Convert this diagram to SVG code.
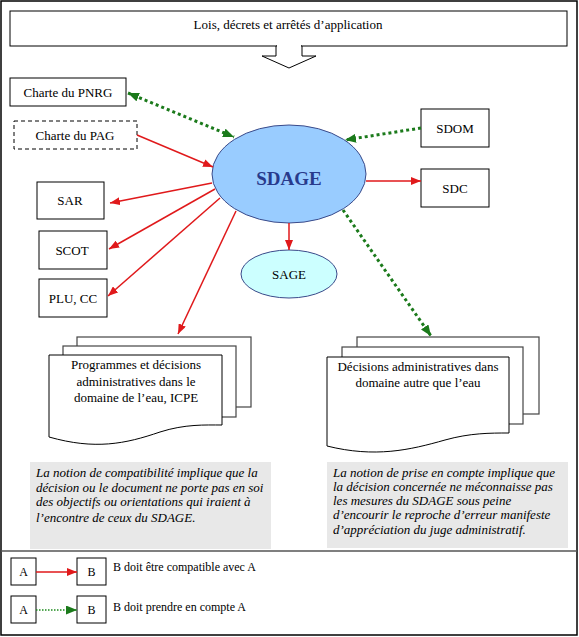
<svg xmlns="http://www.w3.org/2000/svg" width="579" height="637" viewBox="0 0 579 637">
<style>
  text { font-family: "Liberation Serif", "Times New Roman", serif; fill: #000; }
  .lbl { font-size: 13px; text-anchor: middle; }
  .box { fill: #fff; stroke: #000; stroke-width: 1; }
  .page { fill: #fff; stroke: #000; stroke-width: 1; }
  .back { fill: #fff; stroke: #444; stroke-width: 1.2; }
  .red { stroke: #E0191B; stroke-width: 1.5; fill: none; marker-end: url(#ah-red); }
  .green { stroke: #1B7A1B; stroke-width: 3; stroke-dasharray: 3 3; fill: none; marker-end: url(#ah-green); }
  .note { fill: #E8E8E8; stroke: none; }
  .nt { font-size: 13px; font-style: italic; }
  .leg { font-size: 12px; }
  .legc { font-size: 12px; text-anchor: middle; }
</style>
<defs>
  <marker id="ah-red" markerUnits="userSpaceOnUse" markerWidth="10" markerHeight="8" refX="10" refY="4" orient="auto">
    <path d="M0,0 L10,4 L0,8 z" fill="#E0191B"/>
  </marker>
  <marker id="ah-green" markerUnits="userSpaceOnUse" markerWidth="11" markerHeight="9" refX="11" refY="4.5" orient="auto-start-reverse">
    <path d="M0,0 L11,4.5 L0,9 z" fill="#1B7A1B"/>
  </marker>
</defs>
<rect x="0" y="0" width="579" height="637" fill="#fff"/>
<rect x="1" y="1" width="576" height="634" fill="none" stroke="#000" stroke-width="1.5"/>
<line x1="1" y1="551" x2="577" y2="551" stroke="#555" stroke-width="1.5"/>

<g id="lois">
  <rect class="box" x="10" y="11" width="557" height="35" stroke="#333"/>
  <text class="lbl" x="288" y="29">Lois, décrets et arrêtés d’application</text>
  <polygon points="276,46 276,56 262,56 289,68 316,56 302,56 302,46" fill="#fff" stroke="#000" stroke-width="1"/>
  <rect x="277" y="45" width="24" height="2" fill="#fff"/>
</g>

<g id="charte-pnrg">
  <rect class="box" x="10" y="78" width="116" height="28"/>
  <text class="lbl" x="68" y="97">Charte du PNRG</text>
</g>
<g id="charte-pag">
  <rect class="box" x="14" y="121" width="123" height="28" stroke-dasharray="4 3"/>
  <text class="lbl" x="75" y="140">Charte du PAG</text>
</g>
<g id="sdom">
  <rect class="box" x="421" y="109" width="68" height="38"/>
  <text class="lbl" x="455" y="133">SDOM</text>
</g>
<g id="sdc">
  <rect class="box" x="421" y="169" width="68" height="38"/>
  <text class="lbl" x="455" y="193">SDC</text>
</g>
<g id="sar">
  <rect class="box" x="37" y="182" width="67" height="37"/>
  <text class="lbl" x="70" y="205">SAR</text>
</g>
<g id="scot">
  <rect class="box" x="39" y="231" width="68" height="38"/>
  <text class="lbl" x="72" y="255">SCOT</text>
</g>
<g id="plu">
  <rect class="box" x="39" y="279" width="68" height="38"/>
  <text class="lbl" x="73" y="303">PLU, CC</text>
</g>

<g id="sdage">
  <ellipse cx="289" cy="174" rx="77" ry="49" fill="#99CCFF" stroke="#3A4A8A" stroke-width="1"/>
  <text x="289" y="185" text-anchor="middle" font-size="19" font-weight="bold" style="fill:#283A8C">SDAGE</text>
</g>
<g id="sage">
  <ellipse cx="289" cy="274" rx="48" ry="24" fill="#CCFFFF" stroke="#3A4A8A" stroke-width="1"/>
  <text class="lbl" x="289" y="279">SAGE</text>
</g>

<g id="programmes">
  <rect class="back" x="77" y="337" width="174" height="70"/>
  <rect class="back" x="63" y="346" width="173" height="71"/>
  <path class="page" d="M49,355 L222,355 L222,425 C205,425 185,424 160,432 C125,444 95,450 49,437 Z"/>
  <text class="lbl" x="136" y="369">Programmes et décisions</text>
  <text class="lbl" x="136" y="386">administratives dans le</text>
  <text class="lbl" x="136" y="402">domaine de l’eau, ICPE</text>
</g>

<g id="decisions">
  <rect class="back" x="357" y="337" width="182" height="77"/>
  <rect class="back" x="342" y="347" width="181" height="77"/>
  <path class="page" d="M327,357 L509,357 L509,433 C490,433 470,433 445,440 C410,450 375,458 327,446 Z"/>
  <text class="lbl" x="418" y="371">Décisions administratives dans</text>
  <text class="lbl" x="418" y="387">domaine autre que l’eau</text>
</g>

<g id="note-compatibilite">
  <rect class="note" x="30" y="462" width="241" height="87"/>
  <text class="nt" x="36" y="477">La notion de compatibilité implique que la</text>
  <text class="nt" x="36" y="492">décision ou le document ne porte pas en soi</text>
  <text class="nt" x="36" y="506">des objectifs ou orientations qui iraient à</text>
  <text class="nt" x="36" y="522">l’encontre de ceux du SDAGE.</text>
</g>
<g id="note-prise-en-compte">
  <rect class="note" x="327" y="462" width="241" height="86"/>
  <text class="nt" x="333" y="477">La notion de prise en compte implique que</text>
  <text class="nt" x="333" y="491">la décision concernée ne méconnaisse pas</text>
  <text class="nt" x="333" y="505">les mesures du SDAGE sous peine</text>
  <text class="nt" x="333" y="519">d’encourir le reproche d’erreur manifeste</text>
  <text class="nt" x="333" y="534">d’appréciation du juge administratif.</text>
</g>

<g id="connectors">
  <line class="green" x1="128" y1="93" x2="234" y2="137" style="marker-start:url(#ah-green)"/>
  <line class="red" x1="137" y1="135" x2="213" y2="167"/>
  <line class="green" x1="421" y1="128" x2="345" y2="140"/>
  <line class="red" x1="366" y1="181" x2="421" y2="181"/>
  <line class="red" x1="212" y1="183" x2="110" y2="203"/>
  <line class="red" x1="215" y1="189" x2="109" y2="249"/>
  <line class="red" x1="220" y1="198" x2="108" y2="296"/>
  <line class="red" x1="236" y1="211" x2="178" y2="334"/>
  <line class="red" x1="289" y1="223" x2="289" y2="250"/>
  <line class="green" x1="343" y1="210" x2="431" y2="336"/>
</g>

<g id="legend">
  <g id="leg-a1">
    <rect class="box" x="11" y="558" width="25" height="27"/>
    <text class="legc" x="23.5" y="576">A</text>
  </g>
  <g id="leg-b1">
    <rect class="box" x="77" y="558" width="29" height="27"/>
    <text class="legc" x="91.5" y="576">B</text>
  </g>
  <line class="red" x1="36" y1="572" x2="77" y2="572"/>
  <text class="leg" x="113" y="571">B doit être compatible avec A</text>
  <g id="leg-a2">
    <rect class="box" x="11" y="596" width="25" height="27"/>
    <text class="legc" x="23.5" y="614">A</text>
  </g>
  <g id="leg-b2">
    <rect class="box" x="77" y="596" width="29" height="27"/>
    <text class="legc" x="91.5" y="614">B</text>
  </g>
  <line x1="36" y1="610" x2="77" y2="610" stroke="#1B8A1B" stroke-width="1.5" stroke-dasharray="1.5 1.5" marker-end="url(#ah-green)"/>
  <text class="leg" x="113" y="611">B doit prendre en compte A</text>
</g>
</svg>
